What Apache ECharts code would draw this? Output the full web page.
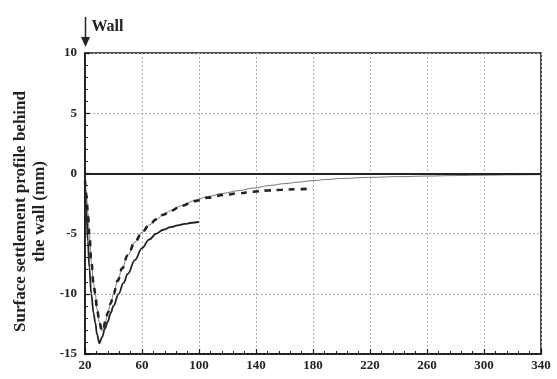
<!DOCTYPE html>
<html>
<head>
<meta charset="utf-8">
<script src="https://cdn.jsdelivr.net/npm/echarts@6/dist/echarts.min.js"></script>
<style>
html,body{margin:0;padding:0;background:#fff;}
#chart{width:557px;height:379px;}
</style>
</head>
<body>
<div id="chart"></div>
<script>
// ---- data (distance from wall reference, settlement mm) ----
const solidX = [20, 21, 22, 23, 24.4, 26, 27.2, 28.5, 30, 32, 34, 36, 38, 40, 43.6, 47, 50, 55, 60, 65, 70, 75, 80, 85, 90, 95, 100];
const solidY = [-0.6, -3.2, -5.6, -7.8, -10, -11.6, -12.4, -13.4, -14.1, -13.6, -12.9, -12.3, -11.6, -11.0, -10, -9.1, -8.35, -7.2, -6.2, -5.5, -5.0, -4.68, -4.47, -4.32, -4.2, -4.1, -4.03];

const dashX = [20, 21, 22, 23, 24.5, 26, 27.2, 28.5, 30, 31.9, 33, 34.3, 36, 38, 40, 43, 46, 50, 55, 60, 65, 70, 75, 80, 88, 97, 106, 117, 128, 138, 148, 158, 168, 180];
const dashY = [-0.6, -1.8, -3.3, -5, -7.4, -9.2, -10, -11.3, -12.3, -13.1, -12.8, -12.3, -11.6, -10.8, -10, -8.9, -7.9, -6.8, -5.7, -4.9, -4.3, -3.82, -3.43, -3.1, -2.68, -2.3, -2.02, -1.8, -1.65, -1.52, -1.42, -1.36, -1.31, -1.26];

const thinX = [20, 21, 22, 23, 24.5, 26, 27.2, 28.5, 30, 31.9, 33, 34.3, 36, 38, 40, 43, 46, 50, 55, 60, 65, 70, 75, 80, 88, 97, 106, 117, 128, 138, 150, 160, 170, 180, 190, 200, 220, 240, 260, 280, 300, 320, 340];
const thinY = [-0.6, -1.8, -3.3, -5, -7.4, -9.2, -10, -11.3, -12.3, -13.1, -12.8, -12.3, -11.6, -10.8, -10, -8.9, -7.9, -6.8, -5.7, -4.9, -4.3, -3.82, -3.43, -3.1, -2.68, -2.25, -1.92, -1.65, -1.43, -1.22, -1.0, -0.85, -0.72, -0.6, -0.5, -0.42, -0.33, -0.27, -0.22, -0.18, -0.15, -0.12, -0.1];

const xTickLabels = [20, 60, 100, 140, 180, 220, 260, 300, 340];
const yTickLabels = [-15, -10, -5, 0, 5, 10];
const yAxisTitle = 'Surface settlement profile behind\nthe wall (mm)';
const wallLabel = 'Wall';

const pair = (xs, ys) => xs.map((x, i) => [x, ys[i]]);
const FONT = '"Liberation Serif", "DejaVu Serif", serif';

const chart = echarts.init(document.getElementById('chart'), null, {renderer: 'canvas'});
const option = {
  animation: false,
  backgroundColor: '#fff',
  grid: {left: 85, right: 16, top: 53, bottom: 25, show: true, borderColor: '#111', borderWidth: 1.5, backgroundColor: 'transparent'},
  xAxis: [
    {type: 'value', min: xTickLabels[0], max: xTickLabels[xTickLabels.length - 1], show: false},
    {type: 'value', position: 'bottom', min: 0, max: xTickLabels[xTickLabels.length - 1] - xTickLabels[0], interval: xTickLabels[1] - xTickLabels[0],
      axisLine: {show: true, lineStyle: {color: '#111', width: 1.5}},
      axisTick: {show: true, inside: true, length: 5, lineStyle: {color: '#111', width: 1.2}},
      minorTick: {show: true, splitNumber: 5, length: 3, lineStyle: {color: '#222', width: 1}},
      splitLine: {show: true, lineStyle: {color: '#b0b0b0', type: [2, 2], width: 1}},
      axisLabel: {fontFamily: FONT, fontWeight: 'bold', fontSize: 13, color: '#222', margin: 5,
        formatter: v => { const i = Math.round(v / (xTickLabels[1] - xTickLabels[0])); return xTickLabels[i] !== undefined ? String(xTickLabels[i]) : ''; }}
    }
  ],
  yAxis: {
    type: 'value', min: yTickLabels[0], max: yTickLabels[yTickLabels.length - 1], interval: 5,
    axisLine: {show: true, lineStyle: {color: '#111', width: 1.5}},
    axisTick: {show: true, inside: true, length: 5, lineStyle: {color: '#111', width: 1.2}},
    minorTick: {show: true, splitNumber: 5, length: 3, lineStyle: {color: '#222', width: 1}},
    splitLine: {show: true, lineStyle: {color: '#b0b0b0', type: [2, 2], width: 1}},
    axisLabel: {fontFamily: FONT, fontWeight: 'bold', fontSize: 13, color: '#222', margin: 8},
    name: yAxisTitle, nameLocation: 'middle', nameGap: 33, nameRotate: 90,
    nameTextStyle: {fontFamily: FONT, fontWeight: 'bold', fontSize: 17, color: '#222', lineHeight: 19, padding: [0, 16, 0, 0]}
  },
  series: [
    {type: 'line', xAxisIndex: 0, data: pair(thinX, thinY), showSymbol: false, smooth: 0.4, smoothMonotone: 'x',
      lineStyle: {color: '#777', width: 1}, z: 2,
      markLine: {silent: true, symbol: 'none', label: {show: false},
        lineStyle: {color: '#222', width: 2, type: 'solid'}, data: [{yAxis: 0}]}},
    {type: 'line', xAxisIndex: 0, data: pair(dashX, dashY), showSymbol: false, smooth: 0.4, smoothMonotone: 'x',
      lineStyle: {color: '#222', width: 2.6, type: [6, 6]}, z: 3},
    {type: 'line', xAxisIndex: 0, data: pair(solidX, solidY), showSymbol: false, smooth: 0.4, smoothMonotone: 'x',
      lineStyle: {color: '#222', width: 1.8}, z: 4}
  ]
};
chart.setOption(option);

const wx = Math.round(chart.convertToPixel({xAxisIndex: 0}, xTickLabels[0])) + 0.5;
chart.setOption({
  graphic: [
    {type: 'line', shape: {x1: wx, y1: 17, x2: wx, y2: 40}, style: {stroke: '#222', lineWidth: 1.5}},
    {type: 'polygon', shape: {points: [[wx - 4.5, 37], [wx + 4.5, 37], [wx, 47]]}, style: {fill: '#222'}},
    {type: 'text', x: wx + 6, y: 27, style: {text: wallLabel, font: 'bold 16px ' + FONT, fill: '#222', textVerticalAlign: 'middle'}}
  ]
});
</script>
</body>
</html>
